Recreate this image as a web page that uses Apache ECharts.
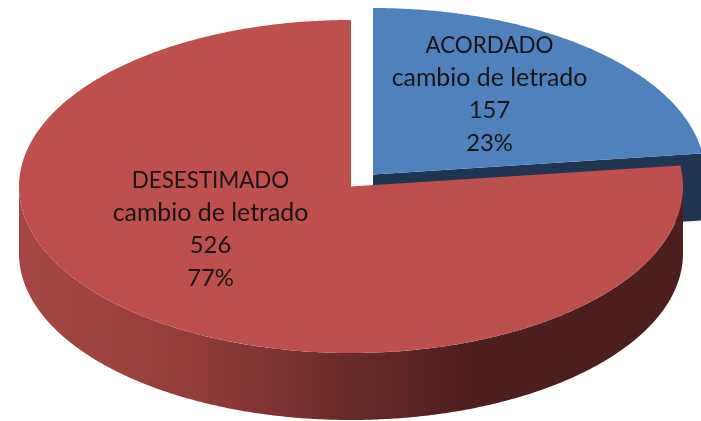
<!DOCTYPE html>
<html>
<head>
<meta charset="utf-8">
<style>html,body{margin:0;padding:0;background:#fff}#c{width:701px;height:421px}</style>
<script src="https://cdn.jsdelivr.net/npm/echarts@6/dist/echarts.min.js"></script>
</head>
<body>
<div id="c"></div>
<script>
const categories = ['ACORDADO', 'DESESTIMADO'];
const subtitle = 'cambio de letrado';
const values = [157, 526];

const total = values.reduce((a, b) => a + b, 0);
const RX = 332, RY = 166.5, DEPTH = 67;
const layouts = [
  { cx: 373, cy: 174.5, top: '#4F81BD', text: [489.5, 94.5] },
  { cx: 351, cy: 186.5, top: '#BD4F4C', text: [210.5, 229.5] }
];
const DARK_BLUE = '#1F3552';

function pt(l, deg, dy) {
  const r = deg * Math.PI / 180;
  return [l.cx + RX * Math.sin(r), l.cy - RY * Math.cos(r) + (dy || 0)];
}
function arc(l, from, to, dy) {
  const out = [], n = Math.max(2, Math.ceil(Math.abs(to - from) * 2));
  for (let i = 0; i <= n; i++) out.push(pt(l, from + (to - from) * i / n, dy));
  return out;
}

function renderItem(params, api) {
  const i = params.dataIndex;
  const l = layouts[i];
  let start = 0;
  for (let k = 0; k < i; k++) start += values[k];
  const a0 = start / total * 360;
  const a1 = a0 + api.value(0) / total * 360;
  const children = [];

  if (i === 0) {
    // cut face of the pulled-out slice
    const tip = pt(l, a1);
    children.push({
      type: 'polygon',
      shape: { points: [[l.cx, l.cy], tip, [tip[0], tip[1] + DEPTH], [l.cx, l.cy + DEPTH]] },
      style: { fill: DARK_BLUE }
    });
  } else {
    // outer wall of the slice, shaded left to right
    const from = Math.max(a0, 90), to = Math.min(a1, 270);
    const rim = arc(l, from, to, 0).concat(arc(l, to, from, DEPTH));
    children.push({
      type: 'polygon',
      shape: { points: rim },
      style: {
        fill: new echarts.graphic.LinearGradient(19, 0, 683, 0, [
          { offset: 0, color: '#A54643' },
          { offset: 0.12, color: '#9E4340' },
          { offset: 0.3, color: '#8C3A37' },
          { offset: 0.5, color: '#682A28' },
          { offset: 0.68, color: '#4E1F1E' },
          { offset: 1, color: '#4C1E1D' }
        ], true)
      }
    });
  }
  // top face
  children.push({
    type: 'polygon',
    shape: { points: [[l.cx, l.cy]].concat(arc(l, a0, a1, 0)) },
    style: { fill: l.top }
  });
  // label
  const pct = Math.round(api.value(0) / total * 100);
  children.push({
    type: 'text',
    z2: 10,
    style: {
      x: l.text[0], y: l.text[1],
      text: '{a|' + categories[i] + '}\n{b|' + subtitle + '}\n{c|' + api.value(0) + '}\n{c|' + pct + '%}',
      rich: {
        a: { font: '400 22.4px Lato, sans-serif', lineHeight: 32.5, fill: '#1A1414', align: 'center' },
        b: { font: '400 24.9px Lato, sans-serif', lineHeight: 32.5, fill: '#1A1414', align: 'center' },
        c: { font: '400 23.8px Lato, sans-serif', lineHeight: 32.5, fill: '#1A1414', align: 'center' }
      },
      align: 'center',
      verticalAlign: 'middle'
    }
  });
  return { type: 'group', children };
}

const chart = echarts.init(document.getElementById('c'), null, { renderer: 'canvas' });
chart.setOption({
  animation: false,
  backgroundColor: '#ffffff',
  series: [{
    type: 'custom',
    coordinateSystem: 'none',
    silent: true,
    renderItem,
    data: values.map((v, i) => ({ name: categories[i], value: [v] }))
  }]
});
</script>
</body>
</html>
